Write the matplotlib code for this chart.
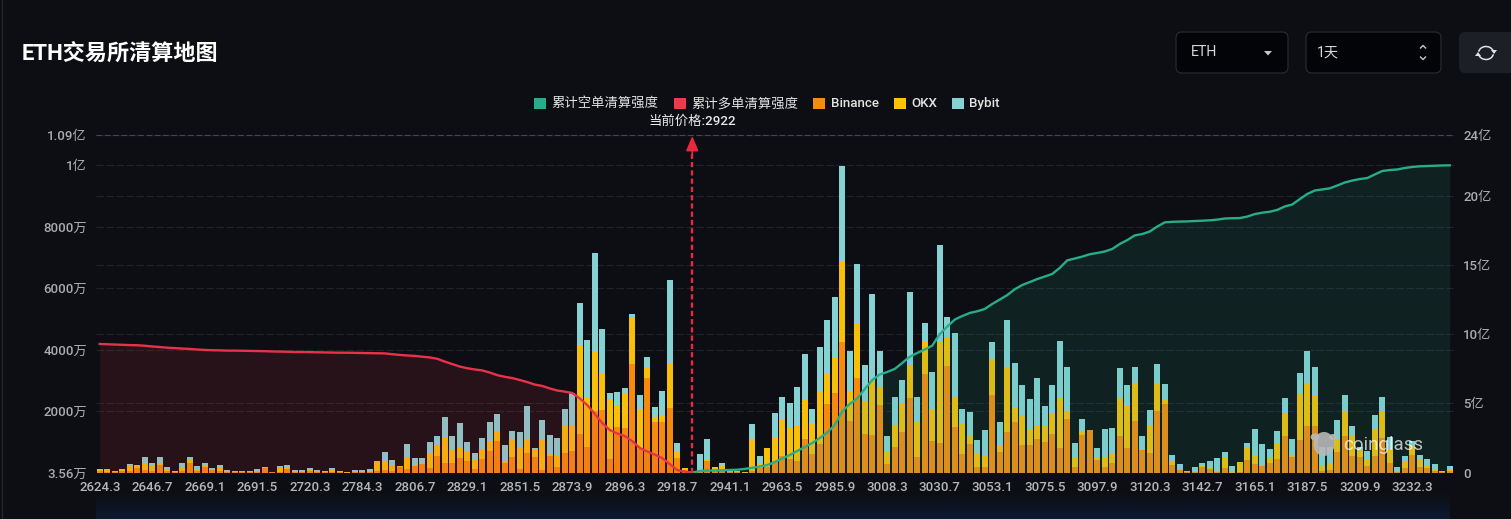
import numpy as np
import matplotlib
matplotlib.use('Agg')
import matplotlib.pyplot as plt
from matplotlib.patches import Rectangle, FancyBboxPatch, Ellipse, Arc, Polygon

plt.rcParams['font.family'] = ['Roboto', 'Noto Sans CJK SC', 'DejaVu Sans']

# liquidation strength per price bucket, in units of 10k USD
binance = [
    43, 33, 11, 54, 54, 163, 87, 65, 238, 65,
    33, 65, 325, 65, 195, 76, 54, 33, 11, 11,
    11, 11, 163, 4, 33, 119, 11, 11, 65, 11,
    11, 33, 11, 3, 11, 33, 11, 43, 87, 65,
    184, 108, 217, 271, 152, 553, 304, 304, 488, 379,
    119, 434, 715, 1030, 304, 520, 130, 629, 509, 98,
    542, 195, 650, 705, 1257, 846, 2016, 2038, 444, 1496,
    1463, 3545, 770, 3079, 1648, 1659, 2114, 488, 87, 0,
    54, 390, 87, 43, 22, 11, 3, 65, 152, 173,
    336, 553, 444, 390, 1095, 607, 932, 2233, 2602, 4238,
    1691, 3079, 1257, 1236, 2211, 282, 824, 1333, 2417, 499,
    3209, 1041, 954, 3480, 1496, 607, 932, 173, 195, 2526,
    683, 1312, 1637, 911, 889, 1084, 1008, 1257, 791, 1734,
    195, 1236, 1377, 412, 195, 304, 1192, 791, 1680, 737,
    650, 2016, 2233, 238, 87, 33, 11, 195, 119, 33,
    141, 0, 22, 412, 282, 217, 304, 455, 1192, 499,
    1062, 1518, 1518, 65, 87, 672, 1192, 542, 520, 217,
    542, 1117, 304, 22, 152, 575, 195, 141, 65, 22,
    54,
]
okx = [
    65, 54, 11, 22, 163, 43, 238, 163, 65, 43,
    11, 87, 87, 22, 65, 54, 87, 33, 11, 11,
    11, 11, 11, 4, 152, 43, 11, 11, 33, 11,
    11, 65, 11, 2, 11, 33, 22, 325, 304, 195,
    22, 412, 43, 54, 499, 347, 813, 434, 304, 325,
    293, 336, 325, 304, 87, 585, 683, 477, 271, 976,
    54, 347, 867, 846, 2894, 1626, 1951, 1214, 1951, 683,
    1138, 1528, 1301, 347, 173, 228, 1442, 217, 65, 0,
    22, 22, 87, 195, 43, 11, 3, 1030, 152, 618,
    835, 1192, 997, 1171, 1312, 997, 1680, 1008, 1127, 2634,
    976, 1778, 1084, 1756, 564, 379, 737, 921, 1084, 1138,
    1084, 1030, 3285, 921, 954, 976, 271, 455, 390, 1182,
    228, 2135, 466, 932, 542, 434, 509, 672, 1626, 282,
    282, 119, 0, 65, 304, 325, 1225, 1398, 1247, 43,
    889, 889, 119, 152, 43, 11, 11, 22, 22, 33,
    336, 11, 314, 379, 293, 22, 173, 466, 759, 76,
    1496, 1388, 997, 163, 217, 412, 824, 650, 217, 195,
    867, 878, 455, 11, 238, 304, 238, 76, 11, 43,
    33,
]
bybit = [
    0, 33, 33, 33, 65, 43, 173, 87, 217, 65,
    22, 152, 108, 130, 43, 11, 98, 11, 33, 22,
    43, 87, 11, 3, 33, 87, 54, 65, 43, 65,
    43, 54, 43, 5, 65, 11, 98, 0, 271, 152,
    0, 401, 217, 152, 347, 282, 705, 466, 824, 304,
    217, 347, 607, 564, 499, 238, 499, 1062, 33, 650,
    640, 585, 553, 1030, 1366, 1843, 3176, 1431, 195, 455,
    141, 76, 466, 325, 304, 759, 2710, 271, 0, 0,
    531, 683, 0, 65, 22, 22, 5, 488, 249, 0,
    770, 726, 824, 1236, 1442, 466, 1463, 1724, 1973, 3089,
    1290, 1930, 1149, 2829, 1182, 542, 900, 759, 2385, 813,
    575, 1214, 3154, 661, 2092, 488, 780, 434, 802, 553,
    726, 1518, 1453, 1019, 954, 1550, 661, 911, 1854, 1420,
    477, 401, 0, 325, 911, 824, 976, 650, 509, 401,
    488, 640, 520, 195, 152, 11, 163, 87, 238, 412,
    206, 217, 0, 163, 835, 683, 304, 444, 466, 520,
    694, 1062, 932, 618, 542, 618, 509, 325, 108, 304,
    477, 455, 412, 152, 152, 163, 141, 217, 195, 0,
    141,
]

# cumulative strength in units of 100M USD, long side down to the current price, short side up from it
long_cum = [
    9.28, 9.26, 9.24, 9.22, 9.20, 9.19, 9.15, 9.10, 9.06, 9.01,
    8.98, 8.95, 8.92, 8.88, 8.85, 8.83, 8.82, 8.80, 8.80, 8.79,
    8.78, 8.77, 8.76, 8.74, 8.73, 8.72, 8.70, 8.70, 8.69, 8.68,
    8.67, 8.66, 8.65, 8.65, 8.64, 8.63, 8.62, 8.61, 8.60, 8.54,
    8.49, 8.45, 8.42, 8.36, 8.31, 8.21, 8.01, 7.83, 7.65, 7.53,
    7.44, 7.37, 7.22, 7.03, 6.91, 6.82, 6.68, 6.53, 6.35, 6.25,
    6.07, 5.92, 5.84, 5.74, 5.35, 4.87, 4.23, 3.57, 3.07, 2.82,
    2.63, 2.27, 1.77, 1.52, 1.29, 1.04, 0.61, 0.18, 0.06, 0,
]
short_cum = [
    0,
    0.11, 0.14, 0.15, 0.16, 0.18, 0.20, 0.26, 0.34, 0.43, 0.54,
    0.76, 1.01, 1.26, 1.56, 1.84, 2.13, 2.49, 2.89, 3.43, 4.41,
    4.95, 5.35, 6.03, 6.68, 7.08, 7.26, 7.48, 7.91, 8.36, 8.63,
    8.88, 9.16, 9.99, 10.54, 11.04, 11.30, 11.52, 11.64, 11.81, 12.17,
    12.49, 12.81, 13.23, 13.54, 13.75, 13.97, 14.15, 14.34, 14.77, 15.32,
    15.45, 15.59, 15.76, 15.85, 15.96, 16.14, 16.50, 16.78, 17.12, 17.22,
    17.40, 17.76, 18.06, 18.10, 18.12, 18.13, 18.16, 18.18, 18.21, 18.26,
    18.34, 18.36, 18.37, 18.48, 18.66, 18.76, 18.83, 18.96, 19.21, 19.35,
    19.74, 20.11, 20.36, 20.44, 20.52, 20.72, 20.94, 21.08, 21.19, 21.26,
    21.52, 21.77, 21.84, 21.88, 21.99, 22.06, 22.11, 22.13, 22.15, 22.17,
    22.18,
]

price_labels = [
    '2624.3', '2646.7', '2669.1', '2691.5', '2720.3', '2784.3', '2806.7',
    '2829.1', '2851.5', '2873.9', '2896.3', '2918.7', '2941.1', '2963.5',
    '2985.9', '3008.3', '3030.7', '3053.1', '3075.5', '3097.9', '3120.3',
    '3142.7', '3165.1', '3187.5', '3209.9', '3232.3',
]
current_bucket = 79

left_ticks = [3.56e4, 2e7, 4e7, 6e7, 8e7, 1e8, 1.0976e8]
left_labels = ['3.56万', '2000万', '4000万', '6000万', '8000万', '1亿', '1.09亿']
right_ticks = [0, 5, 10, 15, 20, 24.37]
right_labels = ['0', '5亿', '10亿', '15亿', '20亿', '24亿']

BG = '#0c0e13'
GRID = '#202328'
TICK = '#a9abae'
GREEN = '#27ad8b'
RED = '#e8324a'
ORANGE = '#f58a0c'
YELLOW = '#f7bf08'
CYAN = '#86d2d3'

W, H = 1511, 519
fig = plt.figure(figsize=(W / 100, H / 100), dpi=100, facecolor=BG)
rect = [96 / W, 1 - 472.5 / H, 1357.5 / W, 337.5 / H]
left_lim = (3.56e4, 1.0976e8)
right_lim = (0, 24.37)

n = len(binance)
x = np.arange(n)
o = np.array(binance) * 1e4
y = np.array(okx) * 1e4
c = np.array(bybit) * 1e4
xlim = (-0.5, n - 0.5)

# right scale sits underneath so its grid stays behind the bars
ax_r = fig.add_axes(rect, facecolor=BG)
ax_r.set_xlim(xlim)
ax_r.set_ylim(right_lim)
ax_r.yaxis.tick_right()
ax_r.set_yticks(right_ticks, right_labels)
ax_r.set_xticks([])
ax_r.grid(axis='y', color=GRID, lw=0.8, ls=(0, (7, 2)))
ax_r.tick_params(axis='y', length=0, pad=7, colors=TICK, labelsize=9.5)

ax = fig.add_axes(rect, facecolor='none')
ax.set_xlim(xlim)
ax.set_ylim(left_lim)
ax.bar(x, o, width=0.75, color=ORANGE)
ax.bar(x, y, width=0.75, bottom=o, color=YELLOW)
ax.bar(x, c, width=0.75, bottom=o + y, color=CYAN)
ax.set_axisbelow(True)
ax.grid(axis='y', color=GRID, lw=0.8, ls=(0, (7, 2)))
ax.set_yticks(left_ticks, left_labels)
ax.set_xticks(x[::7], price_labels)
ax.tick_params(axis='y', length=0, pad=6.5, colors=TICK, labelsize=9.5)
ax.tick_params(axis='x', length=0, pad=6, colors='#b4b6b9', labelsize=9.5)
ax.axhline(left_lim[1], color='#45484e', lw=0.8, ls=(0, (5, 2.5)), clip_on=False)
for lab in ax.get_xticklabels() + ax.get_yticklabels() + ax_r.get_yticklabels():
    lab.set_fontweight(500)

# cumulative lines and the current price marker go on top of the bars
ax_l = fig.add_axes(rect, facecolor='none')
ax_l.set_xlim(xlim)
ax_l.set_ylim(right_lim)
ax_l.axis('off')
x_long = np.arange(len(long_cum))
x_short = np.arange(current_bucket, current_bucket + len(short_cum))
ax_l.fill_between(x_long, long_cum, color=RED, alpha=0.13, lw=0)
ax_l.fill_between(x_short, short_cum, color=GREEN, alpha=0.12, lw=0)
ax_l.plot(x_long, long_cum, color=RED, lw=1.7)
ax_l.plot(x_short, short_cum, color=GREEN, lw=1.7)
ax_l.plot([current_bucket, current_bucket], [0, 23], color='#e9283c', lw=1.7, ls=(0, (2.2, 1.3)))
ax_l.annotate('', xy=(current_bucket, 24.3), xytext=(current_bucket, 22.8),
              arrowprops=dict(arrowstyle='-|>,head_length=0.9,head_width=0.38',
                              color='#e9283c', lw=1.2, shrinkA=0, shrinkB=0))
for ax_i in (ax_r, ax):
    for s in ax_i.spines.values():
        s.set_visible(False)

# page furniture in pixel coordinates
ui = fig.add_axes([0, 0, 1, 1], facecolor='none', zorder=5)
ui.set_xlim(0, W)
ui.set_ylim(H, 0)
ui.axis('off')

band = np.zeros((32, 2, 4))
band[..., :3] = np.array([12, 27, 50]) / 255
band[..., 3] = np.linspace(0, 1, 32)[:, None] ** 1.3
ui.imshow(band, extent=[96, 1450, 519, 489], aspect='auto', zorder=0)
ui.set_xlim(0, W)
ui.set_ylim(H, 0)
ui.plot([2, 2], [0, H], color='#24272c', lw=0.8)

ui.text(22, 54, 'ETH交易所清算地图', color='white', fontsize=15.9, fontweight='bold', va='center')
ui.text(692, 121, '当前价格:2922', color='#e8e8e8', fontsize=9.6, fontweight=500, ha='center', va='center')

legend_items = [
    (534, GREEN, '累计空单清算强度'),
    (674, '#ee3a4e', '累计多单清算强度'),
    (813, '#f98c0f', 'Binance'),
    (894, '#ffc107', 'OKX'),
    (952, CYAN, 'Bybit'),
]
for lx, col, name in legend_items:
    ui.add_patch(Rectangle((lx, 97.5), 11.5, 11.5, color=col, lw=0))
    ui.text(lx + 17.5, 103.7, name, color='#e2e2e2', fontsize=9.6, fontweight=500, va='center')

for bx0, bx1 in [(1176, 1288), (1306, 1441)]:
    ui.add_patch(FancyBboxPatch((bx0, 32), bx1 - bx0, 41, boxstyle='round,pad=0,rounding_size=6',
                                fc='#030408', ec='#26292e', lw=0.9))
ui.add_patch(FancyBboxPatch((1459, 32), 60, 41, boxstyle='round,pad=0,rounding_size=6',
                            fc='#1c2026', ec='none'))
ui.text(1191, 52.5, 'ETH', color='#d8d8d8', fontsize=10.2, va='center')
ui.text(1317, 52.5, '1天', color='#d8d8d8', fontsize=10.2, va='center')
ui.add_patch(Polygon([(1264, 51), (1272, 51), (1268, 55.5)], color='#c8c8c8', lw=0))
ui.plot([1420.5, 1423, 1425.5], [48, 45.5, 48], color='#c8c8c8', lw=1)
ui.plot([1420.5, 1423, 1425.5], [57, 59.5, 57], color='#c8c8c8', lw=1)

# refresh icon
ui.add_patch(Arc((1486, 53), 15, 13, theta1=190, theta2=340, color='#e2e2e2', lw=1.1))
ui.add_patch(Arc((1486, 53), 15, 13, theta1=10, theta2=160, color='#e2e2e2', lw=1.1))
ui.add_patch(Polygon([(1491, 50), (1497, 50), (1494, 54)], color='#e2e2e2', lw=0))
ui.add_patch(Polygon([(1475, 56), (1481, 56), (1478, 52)], color='#e2e2e2', lw=0))

# coinglass watermark
ui.add_patch(Ellipse((1324, 444), 21, 24, color='#b9b9b9', alpha=0.9, lw=0))
ui.add_patch(Ellipse((1315, 437), 9, 7, color='#b9b9b9', alpha=0.9, lw=0))
ui.add_patch(Ellipse((1333, 437), 8, 6, color='#b9b9b9', alpha=0.9, lw=0))
ui.text(1343, 445, 'coinglass', color='white', alpha=0.72, fontsize=13.5, va='center')

fig.savefig('out.png', dpi=100, facecolor=BG)
